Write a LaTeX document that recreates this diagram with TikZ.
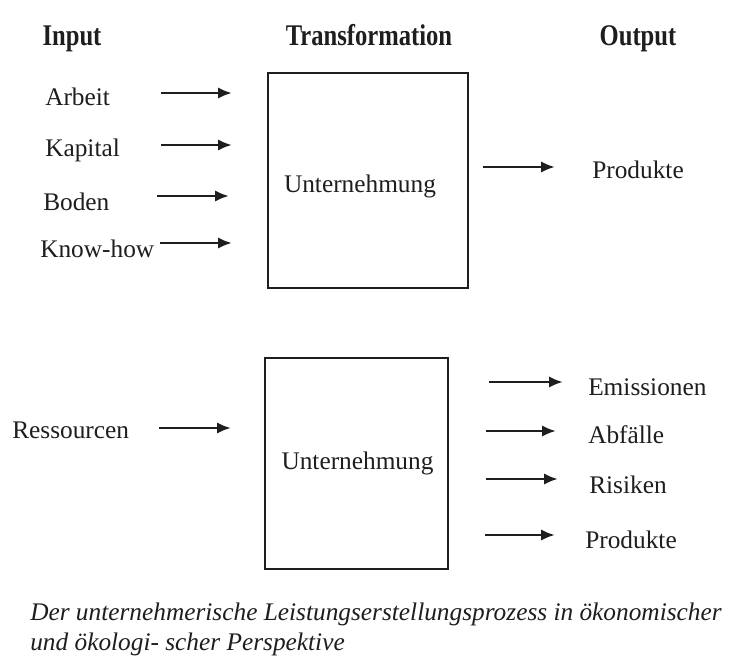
\documentclass[tikz,border=0pt]{standalone}
\usepackage{fontspec}
\setmainfont{Liberation Serif}
\usetikzlibrary{arrows.meta}
\definecolor{ink}{HTML}{1E1E1E}
\begin{document}
\begin{tikzpicture}[x=0.75pt,y=-0.75pt,
  lbl/.style={anchor=base west,inner sep=0pt,text=ink,font=\fontsize{19}{22}\selectfont},
  hdr/.style={anchor=base,inner sep=0pt,text=ink,font=\fontsize{22.5}{26}\selectfont\bfseries,xscale=0.82},
  boxst/.style={draw=ink,line width=1.9pt,inner sep=0pt},
  arr/.style={draw=ink,line width=1.9pt,-{Latex[length=10.5pt,width=8.5pt]}},
  captxt/.style={anchor=base west,inner sep=0pt,text=ink,font=\fontsize{19}{22}\selectfont\itshape}]
\useasboundingbox[fill=white] (0,0) rectangle (736,657);

% headers
\node[hdr] (hin) at (72,45) {Input};
\node[hdr] (htr) at (369,45) {Transformation};
\node[hdr] (hout) at (638,45) {Output};

% box 1
\node[boxst,minimum width=150pt,minimum height=161.25pt] (b1) at (368,180.5) {};
\node[lbl,anchor=base] (u1) at (360,192) {Unternehmung};

% inputs
\node[lbl] (arbeit) at (45,105) {Arbeit};
\node[lbl] (kapital) at (45,156) {Kapital};
\node[lbl] (boden) at (43,210) {Boden};
\node[lbl] (know) at (40,257) {Know-how};
\coordinate (a1s) at (161,93);  \coordinate (a1e) at (232,93);
\coordinate (a2s) at (161,145); \coordinate (a2e) at (232,145);
\coordinate (a3s) at (157,196); \coordinate (a3e) at (229,196);
\coordinate (a4s) at (160,243); \coordinate (a4e) at (232,243);
\draw[arr] (a1s) -- (a1e);
\draw[arr] (a2s) -- (a2e);
\draw[arr] (a3s) -- (a3e);
\draw[arr] (a4s) -- (a4e);

% output 1
\coordinate (o1s) at (483,167); \coordinate (o1e) at (555,167);
\draw[arr] (o1s) -- (o1e);
\node[lbl] (prod1) at (592,178) {Produkte};

% box 2
\node[boxst,minimum width=137.25pt,minimum height=158.25pt] (b2) at (356.5,463.5) {};
\node[lbl,anchor=base] (u2) at (357.5,469) {Unternehmung};

\node[lbl] (ress) at (12,438) {Ressourcen};
\coordinate (r1s) at (159,428); \coordinate (r1e) at (231,428);
\draw[arr] (r1s) -- (r1e);

\coordinate (e1s) at (489,382); \coordinate (e1e) at (563,382);
\coordinate (e2s) at (486,431); \coordinate (e2e) at (556,431);
\coordinate (e3s) at (486,479); \coordinate (e3e) at (558,479);
\coordinate (e4s) at (485,535); \coordinate (e4e) at (555,535);
\draw[arr] (e1s) -- (e1e);
\draw[arr] (e2s) -- (e2e);
\draw[arr] (e3s) -- (e3e);
\draw[arr] (e4s) -- (e4e);
\node[lbl] (emis) at (588,395) {Emissionen};
\node[lbl] (abf) at (588,443) {Abfälle};
\node[lbl] (ris) at (589,493) {Risiken};
\node[lbl] (prod2) at (585,548) {Produkte};

% caption
\node[captxt] (c1) at (30,620) {Der unternehmerische Leistungserstellungsprozess in ökonomischer};
\node[captxt] (c2) at (30,650) {und ökologi- scher Perspektive};
\end{tikzpicture}
\end{document}
